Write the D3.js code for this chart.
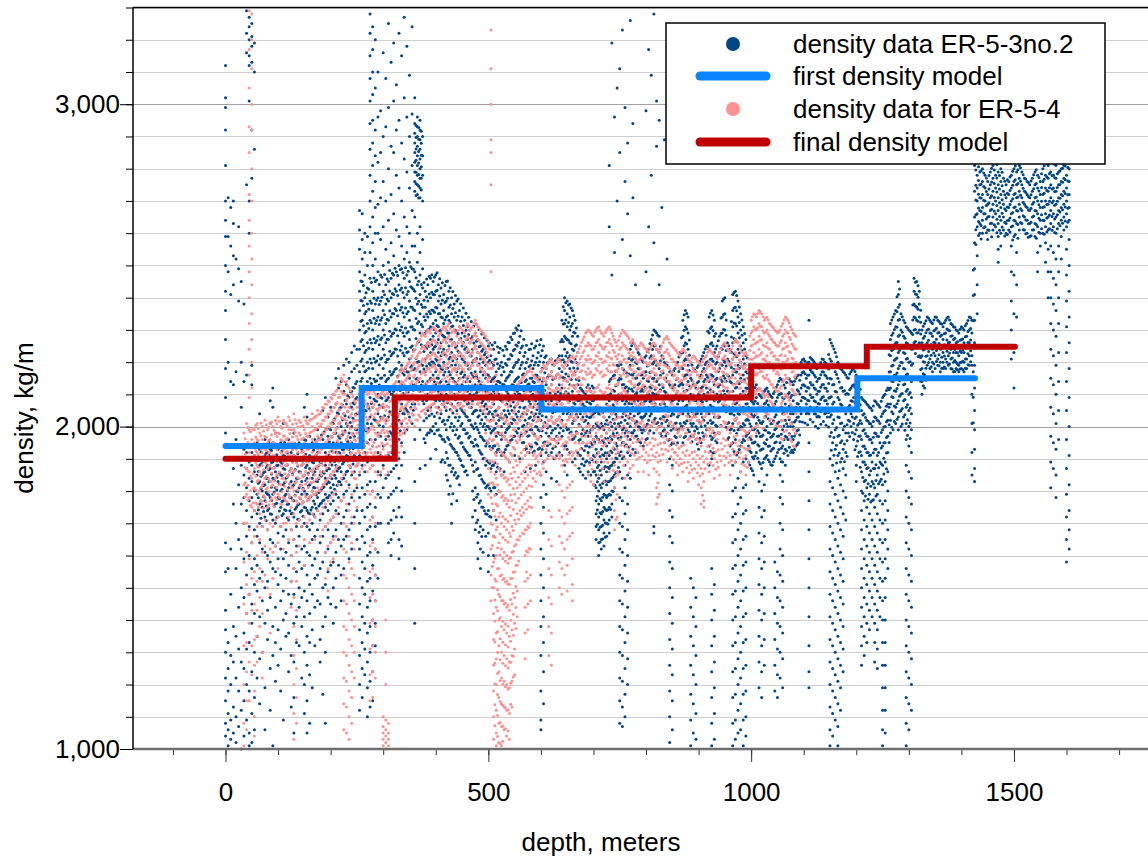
<!DOCTYPE html>
<html>
<head>
<meta charset="utf-8">
<script src="https://cdn.jsdelivr.net/npm/d3@7"></script>
<style>
  body { margin: 0; background: #fff; }
  text { font-family: "Liberation Sans", Arial, sans-serif; fill: #000; }
</style>
</head>
<body>
<div id="chart"></div>
<script>
// ER-5-3no.2 density samples: [depth, density, density, ...]
var er53Rows = [
  [0,3120,3020,2990,2920,2810,2700,2640,2590,2500,2420,2360,2270,2180,2090,1980,1640,1550,1430,1370,1300,1220,1150,1080,1040],
  [5,2710,2590,2480,2200,1560,1330,1250,1180,1110,1060,1010],
  [10,2680,2560,2410,2140,1900,1620,1480,1290,1200,1090,1030],
  [15,2700,2630,2530,2440,2130,1870,1760,1380,1270,1130,1050],
  [20,2520,2170,1960,1700,1560,1350,1220,1100,1020],
  [25,2620,2490,2390,1940,1820,1650,1440,1310,1180,1070],
  [30,2450,2200,2060,1880,1760,1620,1500,1270,1120,1000],
  [35,2380,2140,1930,1850,1780,1700,1590,1470,1360,1250,1150,1040],
  [40,3290,3220,3160,2750,2160,1920,1870,1810,1740,1660,1540,1420,1310,1200,1090],
  [45,3270,3240,3200,3150,3120,3010,2700,2600,1940,1890,1840,1770,1690,1600,1480,1330,1180,1050,1010],
  [50,3250,3210,3180,3130,2920,2770,2190,2130,1920,1880,1830,1780,1720,1640,1560,1450,1390,1240,1110,1020],
  [55,3190,3100,2860,1910,1860,1800,1740,1680,1590,1510,1420,1300,1160,1060],
  [60,1950,1900,1850,1790,1730,1660,1570,1490,1350,1220],
  [65,2040,1930,1880,1830,1760,1700,1640,1530,1410,1280,1140],
  [70,1940,1890,1850,1800,1750,1690,1620,1550,1460,1300],
  [75,1960,1910,1860,1820,1770,1720,1610,1500,1390,1190,1060],
  [80,1920,1880,1840,1790,1740,1680,1600,1520,1430,1340],
  [85,2080,2010,1930,1870,1830,1780,1730,1650,1580,1470,1250,1120],
  [90,2120,2060,1950,1890,1840,1790,1710,1640,1560,1380,1290,1010],
  [95,1980,1900,1860,1810,1760,1700,1630,1550,1440,1330,1210],
  [100,1930,1880,1830,1780,1720,1670,1590,1510,1370,1260],
  [105,1950,1890,1850,1800,1750,1690,1620,1540,1460,1310,1180],
  [110,2010,1910,1870,1820,1770,1730,1660,1590,1490,1400,1090],
  [115,1940,1880,1840,1790,1740,1680,1610,1530,1420,1350],
  [120,1960,1900,1850,1810,1760,1710,1640,1570,1480,1360,1240],
  [125,1920,1870,1830,1780,1730,1680,1600,1520,1450,1290,1130],
  [130,1980,1910,1860,1820,1770,1720,1650,1560,1480,1390,1270,1160,1050],
  [135,1940,1890,1840,1800,1750,1690,1630,1550,1410,1330],
  [140,1950,1900,1860,1810,1760,1710,1660,1580,1500,1440,1320],
  [145,1930,1880,1830,1790,1740,1690,1620,1560,1470,1380,1220],
  [150,2060,1960,1900,1850,1800,1750,1700,1630,1570,1490,1410,1300,1200,1110],
  [155,2100,2030,1940,1880,1840,1790,1740,1690,1610,1540,1460,1350,1260,1150,1050],
  [160,1970,1910,1870,1820,1780,1730,1680,1600,1510,1420,1330,1230,1080],
  [165,1950,1890,1840,1800,1750,1700,1650,1570,1480,1370,1190],
  [170,1960,1900,1860,1810,1760,1720,1660,1590,1530,1440,1320],
  [175,1990,1920,1870,1830,1780,1740,1680,1610,1540,1460],
  [180,2000,1940,1890,1850,1800,1760,1710,1640,1560,1450,1340,1270],
  [185,2050,1960,1900,1860,1810,1770,1730,1660,1580,1500,1380,1170],
  [190,2090,1990,1920,1880,1840,1790,1750,1690,1610,1510,1410,1300,1080],
  [195,2030,1970,1910,1870,1830,1780,1740,1680,1620,1550,1470],
  [200,2060,1990,1940,1890,1850,1810,1760,1710,1640,1570,1450],
  [205,2100,2010,1950,1900,1860,1820,1770,1720,1660,1580,1500,1390],
  [210,2150,2070,1980,1920,1880,1840,1790,1740,1680,1610,1530,1440],
  [215,2180,2120,2040,1970,1920,1870,1830,1780,1730,1650,1570],
  [220,2140,2060,2000,1950,1900,1860,1820,1770,1700,1630,1540,1460],
  [225,2190,2110,2040,1980,1930,1890,1840,1790,1720,1650,1560],
  [230,2210,2130,2070,2010,1960,1910,1860,1800,1740,1660],
  [235,2200,2150,2090,2030,1980,1930,1880,1820,1760,1680,1590],
  [240,2230,2170,2110,2060,2000,1950,1900,1850,1780,1700,1620],
  [245,2250,2180,2120,2070,2020,1970,1910,1860,1800,1720],
  [250,2240,2190,2140,2090,2040,1990,1940,1880,1810,1740,1650],
  [255,2670,2610,2550,2480,2420,2360,2300,2240,2170,2100,2040,1980,1910,1850,1780,1700,1620,1530,1450,1370,1290,1200,1120],
  [260,2660,2580,2520,2450,2390,2330,2270,2210,2150,2080,2010,1950,1880,1810,1740,1660,1580,1500,1410,1330,1250,1160],
  [265,2600,2540,2470,2400,2350,2290,2230,2170,2110,2050,1990,1920,1860,1790,1720,1640,1560,1480,1390,1310,1230],
  [270,2590,2500,2430,2380,2320,2260,2200,2140,2070,2010,1950,1890,1820,1750,1680,1600,1520,1440,1360,1270,1190,1100],
  [275,3280,3220,3150,3080,3010,2940,2860,2780,2700,2620,2540,2460,2390,2330,2270,2210,2150,2090,2030,1960,1900,1830,1760,1690,1610,1530,1460,1380,1300,1210,1130],
  [280,3240,3170,3100,3030,2950,2880,2810,2730,2650,2570,2500,2420,2360,2300,2240,2180,2120,2060,2000,1940,1880,1800,1720,1650,1570,1490,1400,1320,1240,1150],
  [285,3200,3050,2920,2840,2760,2680,2600,2520,2450,2380,2320,2260,2200,2140,2080,2020,1960,1900,1830,1750,1690,1620,1540,1460,1390,1320],
  [290,3100,2960,2820,2690,2600,2480,2400,2340,2280,2220,2160,2100,2040,1980,1920,1860,1790,1700,1610,1530],
  [295,2980,2850,2710,2580,2470,2390,2330,2270,2210,2150,2090,2030,1970,1910,1850,1780,1700],
  [300,3160,2900,2760,2620,2500,2420,2360,2300,2240,2180,2120,2060,2000,1940,1880,1810],
  [305,3080,2930,2700,2550,2440,2380,2320,2260,2200,2140,2080,2020,1960,1900,1840],
  [310,3250,2990,2800,2640,2510,2450,2390,2330,2270,2210,2150,2090,2030,1970,1910,1850,1780,1700,1640],
  [315,3130,2870,2720,2570,2460,2400,2340,2280,2220,2160,2100,2040,1980,1920,1860,1790,1710,1650,1600],
  [320,3190,3010,2850,2660,2530,2470,2410,2350,2290,2230,2170,2110,2050,1990,1930,1870,1800,1740,1670],
  [325,3060,2920,2780,2610,2480,2420,2360,2300,2240,2180,2120,2060,2000,1940,1880,1810,1720],
  [330,3220,2950,2740,2590,2500,2440,2380,2320,2260,2200,2140,2080,2020,1960,1900,1840,1750,1650,1590],
  [335,3150,2880,2700,2560,2490,2430,2370,2310,2250,2190,2130,2070,2010,1950,1880,1800,1720,1630],
  [340,3270,3020,2830,2650,2520,2460,2400,2340,2280,2220,2160,2100,2040,1980,1920],
  [345,3180,2960,2790,2620,2540,2470,2410,2350,2290,2230,2170,2110,2050,1990],
  [350,3090,2900,2740,2600,2510,2450,2390,2330,2270,2210,2150,2090,2030],
  [355,3240,2970,2810,2670,2560,2490,2430,2370,2310,2250,2190,2130,2070,2010],
  [360,3020,2940,2910,2880,2850,2820,2790,2760,2730,2650,2560,2480,2420,2360,2300,2240,2180,2130,2070,1960,1830,1700,1560,1390],
  [365,2960,2930,2900,2870,2840,2810,2780,2750,2720,2600,2510,2440,2380,2320,2260,2200,2150,2090],
  [370,2950,2920,2890,2860,2830,2800,2770,2740,2710,2620,2540,2470,2410,2350,2290,2230,2170,2110,1990,1870],
  [375,2900,2840,2780,2700,2580,2490,2430,2370,2310,2250,2190,2140,2080],
  [380,2420,2370,2330,2290,2250,2210,2170,2130,2090,2040,1950,1880],
  [385,2440,2390,2340,2300,2260,2220,2180,2140,2100,2050,1980],
  [390,2460,2400,2350,2310,2270,2230,2190,2150,2110,2060,1990,1900],
  [395,2450,2410,2360,2320,2280,2240,2200,2160,2120,2070,2000],
  [400,2470,2420,2370,2330,2290,2250,2210,2170,2130,2080,2010,1930],
  [405,2440,2390,2350,2310,2270,2230,2190,2150,2110,2060,1990],
  [410,2430,2380,2340,2300,2260,2220,2180,2140,2100,2040,1970,1890],
  [415,2410,2360,2320,2280,2240,2200,2160,2120,2080,2020,1960],
  [420,2450,2390,2340,2300,2260,2220,2180,2140,2100,2050,1990,1920,1850],
  [425,2420,2370,2330,2290,2250,2210,2170,2130,2090,2030,1960,1880,1790],
  [430,2400,2350,2310,2270,2230,2190,2150,2110,2070,2010,1940,1860,1760,1700],
  [435,2380,2340,2300,2260,2220,2180,2140,2100,2060,2000,1930,1850],
  [440,2390,2330,2290,2250,2210,2170,2130,2090,2050,1990,1920,1840,1770],
  [445,2360,2310,2270,2230,2190,2150,2110,2070,2030,1970,1900,1820],
  [450,2340,2290,2250,2210,2170,2130,2090,2050,2010,1950,1880],
  [455,2330,2280,2240,2200,2160,2120,2080,2040,1990,1930,1860],
  [460,2310,2270,2230,2190,2150,2110,2070,2030,1980,1920,1850],
  [465,2300,2260,2220,2180,2140,2100,2060,2020,1970,1910],
  [470,2280,2240,2200,2160,2120,2080,2040,2000,1950,1880,1800,1720],
  [475,2290,2250,2210,2170,2130,2090,2050,2010,1960,1890,1810,1740,1680],
  [480,2270,2230,2190,2150,2110,2070,2030,1990,1940,1870,1790,1710,1640,1590],
  [485,2250,2210,2170,2130,2090,2050,2010,1970,1920,1850,1770,1690,1620,1560],
  [490,2240,2200,2160,2120,2080,2040,2000,1960,1900,1830,1750,1680,1610],
  [495,2230,2190,2150,2110,2070,2030,1990,1940,1880,1810,1730,1660],
  [500,2250,2200,2160,2120,2080,2040,2000,1950,1890,1820,1740,1670,1600,1550],
  [505,2220,2180,2140,2100,2060,2020,1980,1930,1870,1800,1720],
  [510,2240,2190,2150,2110,2070,2030,1990,1940,1880,1810,1740,1660,1600],
  [515,2210,2170,2130,2090,2050,2010,1970,1920,1860,1790,1710],
  [520,2230,2180,2140,2100,2060,2020,1980,1930,1870,1800],
  [525,2200,2160,2120,2080,2040,2000,1960,1910,1850],
  [530,2220,2170,2130,2090,2050,2010,1970,1920,1860],
  [535,2240,2190,2150,2110,2070,2030,1990,1940],
  [540,2260,2210,2160,2120,2080,2040,2000,1950,1890],
  [545,2270,2220,2170,2130,2090,2050,2010,1960],
  [550,2290,2240,2190,2140,2100,2060,2020,1970,1910],
  [555,2300,2250,2200,2150,2110,2070,2030,1980],
  [560,2280,2230,2180,2140,2100,2060,2020,1970,1900],
  [565,2250,2200,2160,2120,2080,2040,2000,1950],
  [570,2230,2180,2140,2100,2060,2020,1980,1930,1860],
  [575,2210,2170,2130,2090,2050,2010,1970,1920],
  [580,2240,2190,2150,2110,2070,2030,1990,1940,1870],
  [585,2220,2180,2140,2100,2060,2020,1980,1920],
  [590,2250,2200,2160,2120,2080,2040,2000,1950,1880],
  [595,2230,2190,2150,2110,2070,2030,1990,1930],
  [600,2270,2220,2170,2120,2070,2020,1970,1910,1850,1780,1700,1620,1540,1460,1380,1290,1180,1090,1060],
  [605,2250,2200,2150,2100,2050,2000,1950,1890,1820,1750,1670,1590,1500,1410,1330,1240,1140],
  [610,2220,2180,2130,2080,2030,1980,1920,1860,1790],
  [615,2200,2160,2120,2070,2020,1970,1910],
  [620,2210,2170,2130,2080,2030,1980,1920,1840],
  [625,2190,2150,2110,2060,2010,1960,1900],
  [630,2200,2160,2120,2070,2020,1970,1910,1830],
  [635,2220,2180,2130,2080,2030,1980,1920],
  [640,2330,2270,2220,2170,2120,2070,2020,1970,1910],
  [645,2400,2360,2320,2280,2240,2200,2150,2100,2050,2000,1940,1880],
  [650,2390,2350,2310,2270,2230,2190,2140,2090,2040,1990,1930,1850],
  [655,2380,2340,2300,2260,2220,2180,2130,2080,2030,1980,1920],
  [660,2360,2320,2280,2240,2200,2160,2110,2060,2010,1960,1890],
  [665,2330,2290,2250,2210,2170,2120,2070,2020,1970,1900],
  [670,2280,2230,2180,2130,2080,2030,1980,1920],
  [675,2120,2080,2040,2000,1960,1910,1860],
  [680,2110,2070,2030,1990,1950,1900,1850],
  [685,2100,2060,2020,1980,1940,1890,1840],
  [690,2130,2090,2050,2010,1970,1920,1860],
  [695,2110,2070,2030,1990,1950,1900,1850],
  [700,2120,2080,2040,2000,1960,1910,1860,1820],
  [705,2060,2010,1970,1930,1890,1850,1810,1770,1730,1690,1650],
  [710,2040,2000,1960,1920,1880,1840,1800,1760,1720,1680,1640,1600],
  [715,2050,2010,1970,1930,1890,1850,1810,1770,1730,1690,1650,1620],
  [720,2030,1990,1950,1910,1870,1830,1790,1750,1710,1670,1630],
  [725,2070,2020,1980,1940,1900,1860,1820,1780,1740,1700,1660],
  [730,2140,2080,2030,1990,1950,1910,1870,1830,1790,1750,1710,1670,2620,2810],
  [735,2150,2090,2040,2000,1960,1920,1880,1840,1800,1760,1720,2470,3190],
  [740,2160,2110,2060,2010,1970,1930,1890,1850,1810,2540,2960],
  [745,2190,2130,2080,2030,1980,1940,1900,1860,2700,3050],
  [750,2200,2150,2100,2050,2000,1960,1910,1860,1780,1700,1620,1540,1460,1380,1300,1220,1150,1080,2850,3110],
  [755,2180,2130,2080,2030,1990,1950,1900,1840,1770,1690,1610,1530,1450,1370,1290,1210,1130,1070,2580,3230],
  [760,2170,2120,2070,2020,1980,1940,1880,1810,1730,1650,1570,1490,1410,1330,1250,1170,1100,2760,2990],
  [765,2160,2110,2060,2010,1970,1920,1850,1760,1680,1600,1520,1440,1360,1280,1200,2660,2880],
  [770,2240,2190,2140,2090,2040,2000,1960,1910,1840,2530,3260],
  [775,2260,2210,2160,2110,2060,2020,1980,1930,2710,2940],
  [780,2250,2200,2150,2100,2050,2010,1970,1920,2440],
  [785,2230,2180,2130,2080,2040,2000,1960],
  [790,2210,2160,2110,2070,2030,1990,1950],
  [795,2200,2150,2110,2070,2030,1990,1940],
  [800,2220,2170,2120,2080,2040,2000,1960,2480,2980],
  [805,2240,2190,2140,2100,2060,2020,1980,2620,3170],
  [810,2270,2220,2170,2120,2080,2040,2000,2780,3090],
  [815,2300,2250,2200,2150,2100,2060,2020,1980,1690,1670,2570,3280],
  [820,2290,2240,2190,2140,2100,2060,2010,2870,3010],
  [825,2280,2230,2180,2130,2090,2050,2000,2440,2950],
  [830,2220,2170,2130,2090,2050,2010,1970,2680],
  [835,2200,2150,2110,2070,2030,1990,1950,2890],
  [840,2190,2140,2100,2060,2020,1980,2520],
  [845,2170,2130,2090,2050,2010,1960,1900,1820,1740,1660,1580,1500,1420,1340,1260,1180,1100,1020],
  [850,2160,2120,2080,2040,2000,1950,1880,1800,1720,1640,1560,1470,1390,1310,1230,1150,1060],
  [855,2180,2130,2090,2050,2010,1970,1920],
  [860,2200,2150,2110,2070,2030,1990,1950],
  [865,2230,2180,2130,2090,2050,2010,1970],
  [870,2330,2280,2230,2180,2130,2080,2040,2000,1950],
  [875,2360,2310,2260,2210,2160,2110,2060,2010,1970],
  [880,2340,2290,2240,2190,2140,2090,2040,1990],
  [885,2200,2150,2100,2050,2010,1970,1530,1440,1350,1260,1170,1090,1010],
  [890,2180,2130,2090,2050,2010,1970,1500,1410,1320,1230,1140,1050],
  [895,2170,2120,2080,2040,2000,1960,1470,1380,1290,1200,1110,1030],
  [900,2190,2140,2100,2060,2020,1980,1930],
  [905,2210,2160,2120,2080,2040,2000,1950],
  [910,2230,2180,2140,2100,2060,2020,1970],
  [915,2250,2200,2160,2120,2080,2040,1990],
  [920,2340,2290,2240,2190,2140,2090,2040,1990,1940,1880],
  [925,2360,2310,2260,2210,2160,2110,2060,2010,1960,1900,1560,1480,1400,1320,1240,1160,1080,1010],
  [930,2330,2280,2230,2180,2130,2080,2030,1980,1920,1510,1430,1350,1270,1190,1110,1030],
  [935,2250,2200,2150,2100,2050,2000,1950],
  [940,2280,2230,2180,2130,2080,2030,1980],
  [945,2390,2340,2290,2240,2190,2140,2090,2050],
  [950,2400,2350,2300,2250,2200,2150,2100,2060],
  [955,2260,2210,2160,2110,2060,2010,1960],
  [960,2240,2190,2140,2090,2040,1990,1940],
  [965,2410,2360,2310,2260,2210,2160,2110,2060,2010,1950,1880,1800,1720,1640,1560,1480,1400,1320,1240,1160,1080,1010],
  [970,2420,2370,2320,2270,2220,2170,2120,2070,2020,1960,1890,1810,1730,1650,1570,1490,1410,1330,1250,1170,1090,1030],
  [975,2390,2340,2290,2240,2190,2140,2090,2040,1990,1920,1840,1760,1680,1600,1520,1440,1360,1280,1200,1120,1050],
  [980,2350,2300,2250,2200,2150,2100,2050,2000,1940,1860,1780,1700,1620,1540,1460,1380,1300,1220,1140,1060],
  [985,2310,2260,2210,2160,2110,2060,2010,1960,1890,1810,1730,1650,1570,1490,1410,1330,1250,1170,1090,1010],
  [990,2270,2220,2170,2120,2070,2020,1970,1900,1820,1740,1660,1580,1500,1420,1340,1260,1180,1100,1040],
  [995,2150,2100,2060,2020,1980,1940,1890],
  [1000,2120,2080,2040,2000,1960,1920,1870],
  [1005,2110,2070,2030,1990,1950,1900,1850],
  [1010,2130,2090,2050,2010,1970,1920],
  [1015,2100,2060,2020,1980,1940,1890,1830,1750,1670,1590,1510,1430,1350,1270,1190],
  [1020,2090,2050,2010,1970,1930,1870,1800,1720,1640,1560,1480,1400,1320,1240,1160],
  [1025,2110,2070,2030,1990,1950,1900,1820,1740,1660,1580,1500,1420,1340,1260],
  [1030,2120,2080,2040,2000,1960,1910,1850],
  [1035,2100,2060,2020,1980,1940,1890],
  [1040,2090,2050,2010,1970,1930,1880],
  [1045,2110,2070,2030,1990,1950,1900,1580,1500,1420,1340,1260,1180],
  [1050,2130,2090,2050,2010,1970,1920,1550,1470,1390,1310,1230,1160],
  [1055,2150,2100,2050,2000,1950,1900,1850,1780,1700,1620,1540,1460,1380,1300,1220],
  [1060,2140,2090,2040,1990,1940,1890,1830,1760,1680,1600,1520,1440,1360,1280,1190],
  [1065,2120,2070,2020,1970,1930,1880],
  [1070,2150,2100,2050,2000,1960,1910],
  [1075,2140,2090,2040,2000,1960,1920],
  [1080,2130,2080,2040,2000,1960,1920],
  [1085,2150,2100,2060,2020,1980,1940],
  [1090,2160,2110,2070,2030,1990,1950],
  [1095,2200,2160,2120,2080,2040],
  [1100,2210,2170,2130,2090,2050],
  [1105,2190,2150,2110,2070,2040],
  [1110,2330,2200,2160,2120,2080,2040,1950,1860,1770,1680,1590,1500,1410,1320,1240,1190],
  [1115,2210,2170,2130,2090,2050],
  [1120,2200,2160,2120,2080,2040],
  [1125,2180,2140,2100,2060,2030],
  [1130,2190,2150,2110,2070,2030],
  [1135,2210,2170,2130,2090,2050],
  [1140,2200,2160,2120,2080,2040],
  [1145,2190,2150,2110,2070,2030],
  [1150,2270,2210,2150,2090,2030,1970,1900,1830,1760,1690,1620,1550,1480,1410,1340,1270,1200,1130,1060,1010],
  [1155,2250,2190,2130,2070,2010,1950,1880,1810,1740,1670,1600,1530,1460,1390,1320,1250,1180,1110,1040],
  [1160,2230,2170,2110,2050,1990,1930,1860,1790,1720,1650,1580,1510,1440,1370,1300,1230,1160,1090],
  [1165,2200,2150,2090,2030,1970,1910,1840,1770,1700,1630,1560,1490,1420,1350,1280,1210,1140,1070,1010],
  [1170,2180,2120,2070,2010,1950,1890,1820,1750,1680,1610,1540,1470,1400,1330,1260,1190,1120],
  [1175,2170,2110,2050,1990,1930,1870,1800,1730,1660,1590,1520,1450,1380,1310,1240],
  [1180,2160,2100,2040,1980,1920,1850,1780,1710],
  [1185,2150,2100,2060,2020,1980],
  [1190,2170,2120,2080,2040,2000],
  [1195,2180,2130,2090,2050,2010,1960],
  [1200,2160,2110,2070,2030,1990,1940,1880,1830],
  [1205,2140,2090,2050,2010,1970,1920],
  [1210,2090,2050,2010,1960,1910,1860,1800,1740,1680,1620,1560,1500,1440,1380,1320,1260],
  [1215,2080,2040,1990,1940,1890,1830,1770,1710,1650,1590,1530,1470,1410,1350,1290],
  [1220,2070,2020,1970,1920,1870,1810,1750,1690,1630,1570,1510,1450,1390,1330],
  [1225,2060,2010,1960,1910,1850,1790,1730,1670,1610,1550,1490,1430,1370],
  [1230,2050,2000,1950,1890,1830,1770,1710,1650,1590,1530,1470,1410],
  [1235,2080,2030,1980,1930,1870,1810,1750,1690,1630,1570,1510,1450,1390,1330,1270],
  [1240,2070,2020,1970,1910,1850,1790,1730,1670,1610,1550,1490,1430,1370,1310,1250],
  [1245,2060,2010,1950,1890,1830,1770,1710,1650,1590,1530,1470,1410],
  [1250,2090,2040,1990,1940,1880,1820,1760,1700,1640,1580,1520,1460,1400,1330,1260,1190,1120,1060,1010],
  [1255,2100,2050,2000,1950,1890,1830,1770,1710,1650,1590,1530,1470,1400,1330,1260,1190,1120,1050],
  [1260,2120,2070,2020,1970,1920,1860,1800,1740,1680,1620,1560],
  [1265,2320,2270,2220,2170,2120,2070,2020,1980],
  [1270,2340,2290,2240,2190,2140,2090,2040,1990],
  [1275,2360,2310,2260,2210,2160,2110,2060,2010],
  [1280,2450,2410,2370,2330,2280,2230,2180,2130,2080,2030,1990],
  [1285,2350,2300,2250,2200,2150,2100,2050,2000],
  [1290,2330,2280,2230,2180,2130,2080,2030],
  [1295,2310,2260,2210,2160,2110,2060,2010,1960,1880,1800,1720,1640,1560,1480,1400,1320,1240,1160,1080,1010],
  [1300,2300,2250,2200,2150,2100,2050,2000,1940,1860,1780,1700,1620,1540,1460,1380,1300,1220,1140,1060],
  [1305,2290,2240,2190,2140,2090,2040,1990,1920,1840,1760,1680,1600,1520,1440,1360,1280,1200,1120],
  [1310,2460,2420,2380,2340,2300,2260],
  [1315,2450,2410,2370,2330,2290,2250],
  [1320,2420,2380,2340,2300,2260,2220],
  [1325,2300,2260,2220,2180,2140,2100],
  [1330,2320,2280,2240,2200,2160,2120],
  [1335,2340,2300,2260,2220,2190],
  [1340,2330,2290,2250,2210,2180],
  [1345,2320,2280,2240,2200,2170],
  [1350,2340,2300,2260,2220,2180],
  [1355,2330,2290,2250,2210,2190],
  [1360,2320,2280,2240,2200,2170],
  [1365,2310,2270,2230,2200,2180],
  [1370,2330,2290,2250,2210,2180],
  [1375,2340,2300,2260,2220,2190],
  [1380,2320,2280,2240,2210,2180],
  [1385,2310,2270,2230,2200,2170],
  [1390,2300,2260,2230,2200,2180],
  [1395,2290,2250,2220,2190,2170],
  [1400,2310,2270,2230,2200,2180],
  [1405,2300,2260,2230,2200,2170],
  [1410,2320,2280,2250,2210,2180],
  [1415,2340,2300,2260,2220,2190],
  [1420,2330,2290,2250,2220,2190,2100,2010,1920,1850],
  [1425,2810,2730,2650,2570,2490,2410,2330,2260,2190,2120,2050,1990,1930,1870,1830],
  [1430,2820,2780,2740,2700,2660,2620,2530,2440,2350],
  [1435,2790,2750,2710,2670,2630,2600],
  [1440,2800,2760,2720,2680,2640,2600],
  [1445,2780,2740,2700,2660,2620],
  [1450,2760,2720,2690,2650,2610,2580],
  [1455,2790,2750,2710,2670,2630],
  [1460,2810,2770,2730,2690,2650,2610],
  [1465,2780,2740,2700,2660,2620],
  [1470,2830,2790,2750,2710,2670,2630,2590,2550,2510],
  [1475,2800,2760,2720,2680,2640,2600,2560],
  [1480,2770,2730,2690,2650,2610],
  [1485,2750,2710,2670,2630,2600],
  [1490,2760,2720,2680,2640,2610],
  [1495,2780,2740,2700,2660,2620,2560,2480,2390,2300,2210],
  [1500,2800,2760,2720,2680,2640,2590,2470,2350,2230,2120],
  [1505,2790,2750,2710,2670,2630,2540,2440,2340],
  [1510,2810,2770,2730,2690,2650,2610],
  [1515,2790,2750,2710,2670,2630],
  [1520,2770,2730,2690,2650,2610],
  [1525,2760,2720,2680,2640,2600],
  [1530,2750,2710,2670,2630,2590],
  [1535,2770,2730,2690,2650,2610],
  [1540,2790,2750,2710,2670,2630,2590],
  [1545,2780,2740,2700,2660,2620,2540,2480],
  [1550,2760,2720,2680,2640,2600,2560],
  [1555,2800,2760,2720,2680,2640,2600],
  [1560,2820,2780,2740,2700,2660,2620,2570,2510],
  [1565,2810,2770,2730,2690,2650,2610,2550,2480,2400],
  [1570,2830,2790,2750,2710,2670,2630,2560,2480,2400,2320,2240,2150,2060,1970,1890,1810],
  [1575,2820,2780,2740,2700,2660,2620,2540,2460,2380,2300,2220,2130,2040,1950,1870],
  [1580,2810,2770,2730,2690,2650,2600,2520,2440,2360,2280,2190,2100,2010,1930,1850,1780],
  [1585,2830,2790,2750,2710,2670,2630,2560,2480,2400,2320,2230,2140,2050,1960],
  [1590,2840,2800,2760,2720,2680,2640,2590,2520],
  [1595,2850,2810,2770,2730,2690,2650,2610],
  [1600,2860,2820,2780,2740,2700,2660,2620,2550,2470,2390,2310,2230,2140,2050,1960,1870,1790,1720,1650,1580],
  [1605,2840,2800,2760,2720,2680,2640,2580,2500,2420,2340,2260,2180,2090,2000,1910,1820,1740,1680,1620]
];

// ER-5-3no.2 samples in between, where the log is densest
var er53BandRows = [
  [62.5,1938,1896,1861,1824,1779,1742],[67.5,1921,1884,1846,1808,1769,1716],[72.5,1944,1903,1858,1817,1783,1737],
  [77.5,1917,1872,1839,1796,1754,1709],[82.5,1952,1911,1866,1829,1788,1746],[87.5,1926,1889,1853,1812,1771,1728],
  [92.5,1948,1907,1872,1834,1797,1752],[97.5,1913,1879,1842,1803,1762,1719],[102.5,1939,1898,1857,1821,1776,1738],
  [107.5,1924,1886,1849,1806,1768,1724],[112.5,1951,1909,1868,1827,1785,1742],[117.5,1918,1881,1844,1801,1759,1717],
  [122.5,1942,1903,1862,1823,1781,1739],[127.5,1929,1891,1853,1814,1772,1731],[132.5,1947,1906,1867,1828,1787,1744],
  [137.5,1916,1878,1839,1798,1757,1713],[142.5,1936,1897,1859,1818,1776,1735],[147.5,1923,1885,1847,1809,1766,1722],
  [152.5,1958,1914,1873,1832,1791,1748],[157.5,1931,1892,1855,1816,1774,1733],[162.5,1944,1905,1864,1825,1783,1741],
  [167.5,1927,1888,1851,1811,1769,1728],[172.5,1953,1912,1870,1831,1789,1747],[177.5,1962,1921,1879,1838,1796,1754],
  [182.5,1974,1932,1889,1847,1806,1763],[187.5,1983,1941,1898,1855,1813,1772],[192.5,1991,1948,1906,1864,1822,1779],
  [197.5,1996,1953,1911,1869,1827,1786],[202.5,2012,1968,1924,1881,1838,1795],[207.5,2024,1979,1935,1892,1849,1806],
  [212.5,2043,1997,1951,1906,1862,1818],[217.5,2058,2011,1964,1918,1873,1829],[222.5,2067,2021,1975,1929,1884,1838],
  [227.5,2081,2034,1987,1941,1896,1851],[232.5,2096,2048,2001,1954,1908,1862],[237.5,2108,2061,2013,1966,1919,1873],
  [242.5,2121,2073,2026,1978,1931,1884],[247.5,2133,2086,2038,1991,1943,1896],
  [257.5,2452,2391,2327,2264,2203,2141,2078,2016,1953],[262.5,2438,2376,2313,2251,2188,2126,2063,2001,1938],
  [267.5,2415,2357,2296,2237,2174,2112,2049,1987],[272.5,2426,2364,2304,2243,2181,2119,2057,1994],
  [277.5,2447,2383,2322,2259,2197,2134,2072,2009],[282.5,2461,2398,2336,2273,2211,2148,2086,2023],
  [287.5,2455,2392,2329,2267,2204,2142,2079,2017],[292.5,2441,2379,2317,2254,2192,2129,2067,2004],
  [297.5,2463,2401,2338,2276,2213,2151,2088,2026],[302.5,2472,2409,2347,2284,2222,2159,2097,2034],
  [307.5,2458,2396,2333,2271,2208,2146,2083,2021],[312.5,2484,2421,2359,2296,2234,2171,2109,2046,1984],
  [317.5,2476,2413,2351,2288,2226,2163,2101,2038,1976],[322.5,2491,2428,2366,2303,2241,2178,2116,2053,1991],
  [327.5,2469,2407,2344,2282,2219,2157,2094,2032],[332.5,2487,2424,2362,2299,2237,2174,2112,2049,1987],
  [337.5,2478,2416,2353,2291,2228,2166,2103,2041],[342.5,2493,2431,2368,2306,2243,2181,2118,2056],
  [347.5,2482,2419,2357,2294,2232,2169,2107,2044],[352.5,2496,2434,2371,2309,2246,2184,2121,2059],
  [357.5,2488,2426,2363,2301,2238,2176,2113,2051],
  [362.5,2934,2897,2861,2826,2789,2753,2717,2462,2398,2335,2273,2211,2148,2086],
  [367.5,2928,2891,2853,2818,2782,2746,2709,2451,2389,2326,2264,2202,2139],
  [372.5,2916,2879,2842,2806,2770,2734,2441,2379,2317,2254,2192,2129],
  [377.5,2447,2392,2341,2286,2233,2179,2126,2071,2018,1962],[382.5,2458,2403,2349,2296,2242,2188,2135,2081,2027,1974],
  [387.5,2466,2411,2357,2303,2249,2196,2142,2088,2034,1981],[392.5,2471,2417,2362,2308,2254,2201,2147,2093,2039,1986],
  [397.5,2463,2409,2355,2301,2247,2193,2139,2085,2031,1978],[402.5,2477,2423,2368,2314,2259,2205,2151,2097,2043,1989],
  [407.5,2459,2405,2351,2297,2243,2189,2135,2081,2027,1973],[412.5,2446,2392,2338,2284,2231,2177,2123,2069,2015,1961,1897],
  [417.5,2438,2385,2331,2277,2223,2169,2115,2061,2007,1953,1889],[422.5,2452,2398,2344,2290,2236,2182,2128,2074,2020,1966,1902,1834],
  [427.5,2431,2377,2323,2269,2215,2161,2107,2053,1999,1945,1881,1816],[432.5,2419,2366,2312,2258,2204,2150,2096,2042,1988,1934,1871,1792],
  [437.5,2407,2353,2299,2245,2191,2137,2083,2029,1975,1921,1858],[442.5,2396,2342,2288,2234,2180,2126,2072,2018,1964,1910,1846],
  [447.5,2381,2327,2273,2219,2165,2111,2057,2003,1949,1895],[452.5,2368,2314,2261,2207,2153,2099,2045,1991,1937,1876],
  [457.5,2352,2299,2246,2192,2139,2085,2032,1978,1924,1863],[462.5,2339,2286,2233,2179,2126,2072,2019,1965,1911],
  [467.5,2326,2273,2219,2166,2113,2059,2006,1952,1897],[472.5,2312,2259,2206,2153,2099,2046,1993,1939,1861,1774],
  [477.5,2318,2265,2211,2158,2105,2051,1998,1944,1867,1781,1702],[482.5,2301,2248,2194,2141,2088,2034,1981,1927,1848,1763,1672],
  [487.5,2287,2234,2181,2127,2074,2021,1967,1914,1837,1751,1659],[492.5,2276,2223,2169,2116,2063,2009,1956,1902,1824,1739],
  [497.5,2268,2215,2161,2108,2055,2001,1948,1894,1816,1728],[502.5,2259,2206,2153,2099,2046,1993,1939,1886,1809,1721],
  [507.5,2253,2199,2146,2093,2039,1986,1933,1879],[512.5,2261,2208,2155,2101,2048,1995,1941,1888,1811],
  [517.5,2248,2195,2141,2088,2035,1981,1928,1874],[522.5,2243,2189,2136,2083,2029,1976,1923,1869],
  [527.5,2237,2184,2131,2077,2024,1971,1917],[532.5,2249,2196,2142,2089,2036,1982,1929],
  [537.5,2262,2209,2155,2102,2049,1995,1942],[542.5,2278,2224,2171,2118,2064,2011,1958],
  [547.5,2289,2236,2183,2129,2076,2023,1969],[552.5,2306,2253,2199,2146,2093,2039,1986],
  [557.5,2314,2261,2207,2154,2101,2047,1994],[562.5,2297,2244,2191,2137,2084,2031,1977],
  [567.5,2271,2218,2164,2111,2058,2004,1951],[572.5,2252,2199,2145,2092,2039,1985,1932],
  [577.5,2239,2186,2132,2079,2026,1972,1919],[582.5,2257,2204,2150,2097,2044,1990,1937],
  [587.5,2244,2191,2137,2084,2031,1977,1924],[592.5,2266,2213,2159,2106,2053,1999,1946],
  [597.5,2254,2201,2147,2094,2041,1987,1934],[602.5,2236,2181,2139,2088,2034,1987,1929],
  [607.5,2214,2167,2112,2061,2013,1952],[612.5,2198,2153,2097,2049,1996,1941],[617.5,2207,2158,2104,2052,2001,1946],
  [622.5,2193,2146,2092,2043,1989,1932],[627.5,2204,2151,2101,2047,1994,1938],[632.5,2211,2163,2108,2056,2004,1949],
  [637.5,2263,2206,2154,2103,2049,1996],[642.5,2372,2318,2263,2207,2152,2098,2041,1987],
  [647.5,2384,2331,2274,2219,2163,2108,2054,1998,1941],[652.5,2377,2323,2268,2213,2157,2102,2047,1992],
  [657.5,2368,2311,2257,2203,2146,2092,2038,1983],[662.5,2344,2293,2236,2182,2127,2073,2019,1963],
  [667.5,2306,2254,2199,2147,2092,2038,1984],[672.5,2143,2098,2051,2007,1958,1913,1871],
  [677.5,2114,2069,2023,1978,1932,1884],[682.5,2106,2062,2016,1972,1926,1879],[687.5,2121,2077,2031,1986,1941,1893],
  [692.5,2118,2073,2028,1982,1937,1889],[697.5,2126,2081,2036,1990,1944,1897],[702.5,2091,2043,1998,1952,1907,1861,1818],
  [707.5,2047,2003,1962,1918,1873,1829,1784,1741,1697],[712.5,2039,1996,1951,1907,1864,1819,1776,1733,1688,1642],
  [717.5,2044,2001,1957,1913,1869,1824,1781,1737,1694,1651],[722.5,2052,2008,1963,1919,1876,1831,1787,1744,1701,1657],
  [727.5,2098,2054,2007,1963,1919,1874,1829,1786,1742,1698],[732.5,2147,2102,2058,2013,1969,1924,1878,1833,1788,1743],
  [737.5,2157,2113,2068,2023,1979,1934,1889,1844,1799],[742.5,2172,2127,2083,2038,1993,1948,1903,1858],
  [747.5,2189,2144,2099,2054,2009,1964,1919,1873],[752.5,2193,2148,2103,2058,2013,1968,1922],
  [757.5,2176,2131,2086,2041,1996,1951,1907],[762.5,2168,2124,2079,2034,1989,1944],
  [767.5,2211,2163,2118,2072,2027,1982,1937],[772.5,2251,2206,2161,2116,2071,2026,1981],
  [777.5,2257,2213,2168,2123,2078,2033,1988],[782.5,2241,2196,2151,2106,2061,2016,1971],
  [787.5,2224,2179,2134,2089,2044,1999,1954],[792.5,2206,2161,2116,2071,2026,1981],
  [797.5,2214,2169,2124,2079,2034,1989],[802.5,2233,2188,2143,2098,2053,2008,1963],
  [807.5,2258,2213,2168,2123,2078,2033,1988],[812.5,2284,2239,2194,2149,2104,2059,2014],
  [817.5,2296,2251,2206,2161,2116,2071,2026],[822.5,2283,2238,2193,2148,2103,2058,2013],
  [827.5,2249,2204,2159,2114,2069,2024,1979],[832.5,2211,2166,2121,2076,2031,1986],
  [837.5,2196,2151,2106,2061,2016,1971],[842.5,2183,2138,2093,2048,2003,1958],
  [847.5,2169,2124,2079,2034,1989,1944],[852.5,2173,2128,2083,2038,1993,1948],
  [857.5,2191,2146,2101,2056,2011,1966],[862.5,2216,2171,2126,2081,2036,1991],
  [867.5,2276,2228,2182,2136,2091,2046,2001],[872.5,2347,2299,2251,2204,2156,2109,2061,2013,1966],
  [877.5,2351,2303,2256,2208,2161,2113,2066,2018],[882.5,2269,2221,2174,2126,2079,2031,1984],
  [887.5,2191,2143,2096,2048,2001,1953],[892.5,2176,2129,2081,2034,1986],[897.5,2183,2136,2088,2041,1993,1946],
  [902.5,2202,2154,2107,2059,2012,1964],[907.5,2219,2171,2124,2076,2029,1981],[912.5,2241,2193,2146,2098,2051,2003],
  [917.5,2296,2248,2201,2153,2106,2058,2011],[922.5,2352,2304,2256,2209,2161,2114,2066,2019,1971,1923],
  [927.5,2346,2298,2251,2203,2156,2108,2061,2013,1966,1918],[932.5,2289,2241,2194,2146,2099,2051,2004,1956],
  [937.5,2266,2218,2171,2123,2076,2028,1981],[942.5,2337,2289,2242,2194,2147,2099,2052,2004],
  [947.5,2396,2348,2301,2253,2206,2158,2111,2063],[952.5,2331,2283,2236,2188,2141,2093,2046,1998],
  [957.5,2251,2203,2156,2108,2061,2013,1966],[962.5,2326,2278,2231,2183,2136,2088,2041,1993,1946],
  [967.5,2416,2368,2321,2273,2226,2178,2131,2083,2036,1988,1923],[972.5,2407,2359,2312,2264,2217,2169,2122,2074,2027,1979,1912],
  [977.5,2371,2323,2276,2228,2181,2133,2086,2038,1991,1929],[982.5,2331,2283,2236,2188,2141,2093,2046,1998,1951],
  [987.5,2289,2241,2194,2146,2099,2051,2004,1956],[992.5,2213,2166,2118,2071,2023,1976,1928],
  [997.5,2136,2094,2051,2009,1966,1924,1881],[1002.5,2117,2076,2034,1991,1949,1906,1863],
  [1007.5,2121,2079,2037,1994,1952,1909],[1012.5,2114,2072,2029,1987,1944,1902],[1017.5,2096,2054,2012,1969,1927,1884],
  [1022.5,2101,2059,2016,1974,1931,1889],[1027.5,2116,2073,2031,1989,1946,1904],[1032.5,2109,2067,2024,1982,1939,1897],
  [1037.5,2094,2052,2009,1967,1924,1882],[1042.5,2103,2061,2018,1976,1933,1891],[1047.5,2122,2079,2037,1994,1952,1909],
  [1052.5,2141,2099,2056,2014,1971,1929],[1057.5,2146,2103,2061,2018,1976,1933,1891],[1062.5,2129,2087,2044,2002,1959,1917],
  [1067.5,2137,2094,2052,2009,1967,1924],[1072.5,2148,2106,2063,2021,1978,1936],[1077.5,2139,2097,2054,2012,1969,1927],
  [1082.5,2141,2099,2056,2014,1971,1929],[1087.5,2157,2114,2072,2029,1987,1944],[1092.5,2186,2144,2101,2059,2016,1974],
  [1097.5,2207,2168,2129,2091,2052,2014],[1102.5,2203,2164,2126,2087,2049,2011],[1107.5,2198,2159,2121,2082,2044,2006],
  [1112.5,2214,2176,2137,2099,2061,2022],[1117.5,2206,2167,2129,2091,2052,2014],[1122.5,2193,2154,2116,2077,2039,2001],
  [1127.5,2187,2148,2110,2072,2033,1995],[1132.5,2199,2161,2122,2084,2046,2007],[1137.5,2208,2169,2131,2093,2054,2016],
  [1142.5,2196,2157,2119,2081,2042,2004],[1147.5,2224,2179,2134,2089,2044,1999],
  [1152.5,2259,2203,2148,2093,2037,1982,1927],[1157.5,2241,2186,2131,2076,2021,1966,1911],
  [1162.5,2217,2162,2107,2052,1997,1942,1887],[1167.5,2193,2138,2083,2028,1973,1918,1863],
  [1172.5,2176,2121,2066,2011,1956,1901],[1177.5,2166,2111,2056,2001,1946,1891],[1182.5,2152,2103,2054,2006,1957,1908],
  [1187.5,2163,2114,2066,2017,1969],[1192.5,2176,2127,2079,2030,1982],[1197.5,2171,2122,2074,2025,1977,1928],
  [1202.5,2149,2101,2052,2004,1955,1907],[1207.5,2116,2068,2019,1971,1922,1874],
  [1212.5,2084,2036,1987,1939,1890,1842,1793],[1217.5,2076,2028,1979,1931,1882,1834,1785],
  [1222.5,2066,2017,1969,1920,1872,1823,1775],[1227.5,2057,2009,1960,1912,1863,1815,1766],
  [1232.5,2064,2016,1967,1919,1870,1822,1773],[1237.5,2076,2027,1979,1930,1882,1833,1785],
  [1242.5,2066,2017,1969,1920,1872,1823],[1247.5,2079,2031,1982,1934,1885,1837],
  [1252.5,2096,2047,1999,1950,1902,1853],[1257.5,2112,2063,2015,1966,1918,1869],
  [1262.5,2223,2169,2114,2060,2006,1951],[1267.5,2331,2283,2236,2188,2141,2093,2046,1998],
  [1272.5,2349,2301,2254,2206,2159,2111,2064,2016],[1277.5,2403,2356,2308,2261,2213,2166,2118,2071,2023],
  [1282.5,2427,2379,2332,2284,2237,2189,2142,2094,2047],[1287.5,2341,2293,2246,2198,2151,2103,2056,2008],
  [1292.5,2322,2274,2227,2179,2132,2084,2037,1989],[1297.5,2306,2258,2211,2163,2116,2068,2021,1973],
  [1302.5,2296,2248,2201,2153,2106,2058,2011,1963],[1307.5,2377,2331,2286,2241,2196,2151],
  [1312.5,2448,2411,2374,2337,2301,2264,2227],[1317.5,2437,2401,2364,2327,2291,2254,2217],
  [1322.5,2361,2324,2287,2251,2214,2177,2141],[1327.5,2311,2274,2238,2201,2164,2127],
  [1332.5,2328,2291,2254,2218,2181,2144],[1337.5,2336,2302,2268,2233,2199],[1342.5,2324,2289,2255,2221,2186],
  [1347.5,2331,2297,2262,2228,2194],[1352.5,2339,2305,2271,2236,2202],[1357.5,2326,2292,2258,2223,2189],
  [1362.5,2318,2284,2249,2215,2181],[1367.5,2322,2288,2254,2219,2185],[1372.5,2337,2303,2269,2234,2200],
  [1377.5,2331,2297,2262,2228,2194],[1382.5,2316,2282,2248,2213,2179],[1387.5,2308,2274,2239,2205,2171],
  [1392.5,2297,2263,2229,2194,2176],[1397.5,2302,2268,2234,2199,2179],[1402.5,2306,2272,2238,2203,2177],
  [1407.5,2313,2279,2245,2210,2181],[1412.5,2329,2295,2261,2226,2192],[1417.5,2338,2304,2269,2235,2201],
  [1422.5,2486,2407,2328,2249,2170,2091,2012],[1427.5,2796,2749,2703,2657,2611,2565],
  [1432.5,2806,2763,2721,2678,2636,2593],[1437.5,2794,2752,2709,2667,2624,2582],[1442.5,2787,2745,2702,2660,2617],
  [1447.5,2771,2729,2686,2644,2601],[1452.5,2779,2737,2694,2652,2609],[1457.5,2801,2759,2716,2674,2631,2589],
  [1462.5,2796,2754,2711,2669,2626],[1467.5,2813,2771,2728,2686,2643,2601],[1472.5,2822,2779,2737,2694,2652,2609],
  [1477.5,2789,2747,2704,2662,2619],[1482.5,2761,2719,2676,2634,2591],[1487.5,2766,2724,2681,2639,2596],
  [1492.5,2774,2732,2689,2647,2604],[1497.5,2792,2749,2707,2664,2622,2579],[1502.5,2808,2766,2723,2681,2638,2596],
  [1507.5,2797,2754,2712,2669,2627,2584],[1512.5,2803,2761,2718,2676,2633],[1517.5,2781,2739,2696,2654,2611],
  [1522.5,2768,2726,2683,2641,2598],[1527.5,2757,2714,2672,2629,2587],[1532.5,2762,2719,2677,2634,2592],
  [1537.5,2781,2738,2696,2653,2611],[1542.5,2797,2754,2712,2669,2627,2584],[1547.5,2773,2731,2688,2646,2603],
  [1552.5,2784,2742,2699,2657,2614],[1557.5,2809,2767,2724,2682,2639,2597],[1562.5,2817,2774,2732,2689,2647,2604],
  [1567.5,2826,2784,2741,2699,2656,2614],[1572.5,2822,2779,2737,2694,2652,2609],[1577.5,2814,2772,2729,2687,2644,2602],
  [1582.5,2827,2784,2742,2699,2657,2614],[1587.5,2836,2793,2751,2708,2666,2623],[1592.5,2843,2801,2758,2716,2673,2631],
  [1597.5,2851,2808,2766,2723,2681,2638],[1602.5,2847,2804,2762,2719,2677,2634]
];

// ER-5-4 density samples: [depth, density, density, ...]
var er54Rows = [
  [35,1980,1900,1820,1700,1580,1450,1320,1200,1080,1010],
  [40,2010,1940,1870,1790,1700,1610,1510,1420,1330,1240,1150,1060],
  [45,3290,3170,3050,2930,2850,2720,2640,2560,2480,2400,2320,2240,2160,2090,1990,1920,1860,1780,1680,1590,1480,1390,1270,1150],
  [50,3280,3200,3110,3000,2920,2800,2700,2600,2520,2440,2350,2270,2200,2120,1960,1900,1840,1750,1640,1530,1430,1320,1230],
  [55,1990,1950,1910,1870,1810,1740,1660,1550,1450,1340,1260,1180,1100,1040],
  [60,2010,1960,1920,1880,1830,1760,1690,1600,1520,1430,1350,1270],
  [65,1980,1940,1900,1860,1800,1730,1650,1560,1470,1380],
  [70,2000,1960,1920,1880,1820,1760,1690,1610,1520,1420,1300,1220],
  [75,2020,1970,1930,1890,1840,1780,1710,1630,1540],
  [80,1990,1950,1910,1870,1810,1750,1680,1590,1500],
  [85,2010,1960,1920,1880,1830,1770,1700,1620,1480,1360],
  [90,2000,1950,1910,1870,1820,1760,1690,1610,1530],
  [95,2020,1980,1940,1900,1840,1780,1710,1630],
  [100,2030,1980,1940,1900,1850,1790,1720,1640,1560],
  [105,2000,1960,1920,1880,1820,1760,1690],
  [110,2020,1970,1930,1890,1840,1780,1700,1620],
  [115,2010,1960,1920,1880,1830,1770,1700],
  [120,2030,1990,1950,1910,1850,1790,1720,1650],
  [125,1990,1950,1910,1870,1810,1750,1680,1600,1520,1440],
  [130,2040,1990,1950,1910,1860,1800,1730,1650,1560,1470,1380,1290,1200,1110,1030],
  [135,2010,1970,1930,1890,1830,1770,1700,1610,1520,1430,1340,1250,1160,1080],
  [140,2020,1980,1940,1900,1840,1780,1710,1630],
  [145,2000,1960,1920,1880,1820,1760,1690],
  [150,2030,1990,1950,1910,1850,1790,1720,1650,1570],
  [155,2010,1970,1930,1890,1830,1770,1700],
  [160,2020,1980,1940,1900,1840,1780,1710,1640],
  [165,2040,2000,1960,1920,1860,1800,1730],
  [170,2030,1990,1950,1910,1850,1790,1720,1650],
  [175,2050,2010,1970,1930,1870,1810,1740],
  [180,2040,2000,1960,1920,1860,1800,1730,1660],
  [185,2060,2020,1980,1940,1880,1820,1750,1680],
  [190,2070,2030,1990,1950,1890,1830,1760,1690,1610,1530],
  [195,2080,2040,2000,1960,1900,1840,1770,1700,1630,1560,1490],
  [200,2090,2050,2010,1970,1910,1850,1780,1710,1640,1580],
  [205,2100,2060,2020,1980,1920,1860,1790,1720,1650,1590],
  [210,2110,2070,2030,1990,1930,1870,1800,1730,1660],
  [215,2130,2090,2050,2010,1950,1890,1820,1750],
  [220,2150,2110,2070,2030,1970,1910,1840,1770],
  [225,2160,2100,2040,1980,1920,1850,1780,1700,1620,1540,1460,1380,1300,1220,1140,1060],
  [230,2140,2080,2020,1960,1900,1830,1760,1690,1610,1530,1450,1370,1290,1210,1130,1050],
  [235,2120,2060,2000,1940,1880,1810,1740,1660,1580,1500,1420,1340,1260,1180,1100,1030],
  [240,2100,2040,1980,1920,1860,1790,1720,1640,1560,1480,1400,1320,1240,1160,1080],
  [245,2080,2020,1960,1900,1840,1770,1700,1620,1540,1460,1380,1300,1220],
  [250,2060,2020,1980,1940,1880,1820,1750],
  [255,2100,2060,2020,1980,1920,1860],
  [260,2110,2070,2030,1990,1930,1870],
  [265,2120,2080,2040,2000,1940,1880],
  [270,2100,2060,2020,1980,1920,1860,1800],
  [275,2110,2050,1990,1930,1870,1790,1710,1630,1550,1470,1390,1310,1230,1150],
  [280,2120,2060,2000,1940,1880,1800,1720,1640,1560,1480,1400,1320,1240,1160],
  [285,2100,2040,1980,1920,1860,1780,1700,1620,1540,1460,1380,1300,1220],
  [290,2090,2050,2010,1970,1910,1850],
  [295,2100,2060,2020,1980,1920,1860],
  [300,2110,2070,2030,1990,1930,1870,1100,1070,1050,1030,1010],
  [305,2090,2050,2010,1970,1910,1850,1400,1300,1200,1090,1060,1040,1020,1000],
  [310,2100,2060,2020,1980,1920,1860,1080,1050,1030,1010],
  [315,2120,2080,2040,2000,1940],
  [320,2130,2090,2050,2010,1950],
  [325,2140,2100,2060,2020,1960,1900],
  [330,2160,2120,2080,2040,1980,1920],
  [335,2180,2140,2100,2060,2000,1940],
  [340,2170,2130,2090,2050,1990],
  [345,2190,2150,2110,2070,2010],
  [350,2200,2160,2120,2080,2020],
  [355,2220,2180,2140,2100,2040],
  [360,2240,2200,2160,2120,2060,2000],
  [365,2260,2220,2180,2140,2080,2020],
  [370,2270,2230,2190,2150,2090,2030],
  [375,2290,2250,2210,2170,2110,2050],
  [380,2280,2240,2200,2160,2100,2040],
  [385,2300,2260,2220,2180,2120,2060],
  [390,2290,2250,2210,2170,2110,2050],
  [395,2310,2270,2230,2190,2130,2070],
  [400,2300,2260,2220,2180,2120,2060],
  [405,2280,2240,2200,2160,2100,2040],
  [410,2290,2250,2210,2170,2110,2050],
  [415,2310,2270,2230,2190,2130,2070],
  [420,2300,2260,2220,2180,2120,2060],
  [425,2320,2280,2240,2200,2140,2080],
  [430,2290,2250,2210,2170,2110,2050],
  [435,2300,2260,2220,2180,2120,2060],
  [440,2280,2240,2200,2160,2100,2040],
  [445,2310,2270,2230,2190,2130,2070],
  [450,2300,2260,2220,2180,2120,2060],
  [455,2290,2250,2210,2170,2110,2050],
  [460,2320,2280,2240,2200,2140,2080],
  [465,2300,2260,2220,2180,2120,2060],
  [470,2310,2270,2230,2190,2130,2070],
  [475,2330,2290,2250,2210,2150,2090],
  [480,2310,2270,2230,2190,2130,2070],
  [485,2300,2260,2220,2180,2120,2060],
  [490,2290,2250,2210,2170,2110,2050],
  [495,2280,2240,2200,2160,2100,2040,1980,1900],
  [500,2260,2220,2180,2140,2080,2020,1950,1870,1790],
  [505,3230,3110,3000,2890,2850,2750,2480,2240,2180,2120,2060,2000,1930,1860,1780,1700,1620,1540,1460],
  [510,2200,2140,2080,2020,1960,1890,1820,1740,1660,1580,1500,1420,1340,1260,1180,1100,1030],
  [515,2160,2100,2040,1980,1910,1840,1760,1680,1600,1520,1440,1360,1280,1200,1120,1050,1010],
  [520,2120,2060,2000,1940,1870,1800,1720,1640,1560,1480,1400,1320,1240,1160,1080,1020],
  [525,2100,2040,1980,1920,1850,1780,1700,1620,1540,1460,1380,1300,1220,1140,1070,1010],
  [530,2090,2030,1970,1910,1840,1770,1690,1610,1530,1450,1370,1290,1210,1130,1060],
  [535,2080,2020,1960,1900,1830,1760,1680,1600,1520,1440,1360,1280,1200,1120,1040],
  [540,2070,2010,1950,1890,1820,1750,1670,1590,1510,1430,1350,1270,1190,1110,1030],
  [545,2090,2030,1970,1910,1840,1770,1690,1610,1530,1450,1370,1290,1210,1130],
  [550,2110,2050,1990,1930,1860,1790,1710,1630,1550,1470,1390,1310,1230],
  [555,2130,2070,2010,1950,1880,1810,1730,1650,1570,1490,1410],
  [560,2140,2080,2020,1960,1890,1820,1740,1660],
  [565,2150,2090,2030,1970,1900,1830,1750,1670],
  [570,2160,2100,2040,1980,1910,1840,1760,1680,1600,1520,1440,1360,1280],
  [575,2170,2110,2050,1990,1920,1850,1770,1690,1610,1530,1450,1370],
  [580,2180,2120,2060,2000,1930,1860,1780,1700,1620,1540,1460],
  [585,2160,2120,2080,2040,1980,1910,1840],
  [590,2150,2110,2070,2030,1970,1900,1830],
  [595,2140,2100,2060,2020,1960,1890],
  [600,2170,2130,2090,2050,1990,1920,1850],
  [605,2190,2150,2110,2070,2010,1940,1870],
  [610,2180,2140,2100,2060,2000,1930],
  [615,2200,2160,2120,2080,2020,1950,1740,1650,1560,1470,1380,1290],
  [620,2210,2170,2130,2090,2030,1960,1720,1630,1540,1450,1360,1260],
  [625,2190,2150,2110,2070,2010,1940],
  [630,2200,2160,2120,2080,2020,1950],
  [635,2210,2150,2090,2030,1960,1900,1820,1740,1660,1580,1500],
  [640,2190,2130,2070,2010,1940,1880,1800,1720,1640,1560,1480],
  [645,2180,2120,2060,2000,1930,1860,1780,1700,1620,1540],
  [650,2200,2140,2080,2020,1950,1890,1810,1730,1650,1570,1490],
  [655,2210,2150,2090,2030,1960,1900,1820,1740,1660],
  [660,2220,2160,2100,2040,1970,1910,1830,1750,1670,1590,1510,1460],
  [665,2200,2160,2120,2080,2020,1950,1880],
  [670,2230,2190,2150,2110,2050,1980,1910],
  [675,2250,2210,2170,2130,2070,2000,1930],
  [680,2270,2230,2190,2150,2090,2020,1950],
  [685,2290,2250,2210,2170,2110,2040,1970],
  [690,2300,2260,2220,2180,2120,2050,1980,1910,1850],
  [695,2290,2250,2210,2170,2110,2040,1970,1900,1830],
  [700,2280,2240,2200,2160,2100,2030,1960,1890,1820],
  [705,2300,2260,2220,2180,2120,2050,1980,1910],
  [710,2310,2270,2230,2190,2130,2060,1990,1920,1850],
  [715,2290,2250,2210,2170,2110,2040,1970,1900],
  [720,2280,2240,2200,2160,2100,2030,1960,1890,1830],
  [725,2300,2260,2220,2180,2120,2050,1980,1910],
  [730,2310,2270,2230,2190,2130,2060,1990,1920,1860],
  [735,2290,2250,2210,2170,2110,2040,1970,1900],
  [740,2270,2230,2190,2150,2090,2020,1950,1880,1810,1740,1680],
  [745,2250,2210,2170,2130,2070,2000,1930,1860,1790,1720],
  [750,2280,2240,2200,2160,2100,2030,1960,1890],
  [755,2300,2260,2220,2180,2120,2050,1980,1910],
  [760,2290,2250,2210,2170,2110,2040,1970,1900,1840],
  [765,2280,2240,2200,2160,2100,2030,1960,1890],
  [770,2260,2220,2180,2140,2080,2010,1940,1870],
  [775,2270,2230,2190,2150,2090,2020,1950,1880],
  [780,2250,2210,2170,2130,2070,2000,1930],
  [785,2240,2200,2160,2120,2060,1990,1920,1860],
  [790,2260,2220,2180,2140,2080,2010,1940],
  [795,2250,2210,2170,2130,2070,2000,1930,1860],
  [800,2240,2200,2160,2120,2060,1990,1920],
  [805,2230,2190,2150,2110,2050,1980,1910,1850],
  [810,2250,2210,2170,2130,2070,2000,1930],
  [815,2260,2220,2180,2140,2080,2010,1940,1870],
  [820,2240,2200,2160,2120,2060,1990,1920,1860,1810,1760],
  [825,2230,2190,2150,2110,2050,1980,1910,1850,1790],
  [830,2250,2210,2170,2130,2070,2000,1930],
  [835,2270,2230,2190,2150,2090,2020,1950],
  [840,2280,2240,2200,2160,2100,2030,1960,1890],
  [845,2260,2220,2180,2140,2080,2010,1940],
  [850,2250,2210,2170,2130,2070,2000,1930,1870],
  [855,2240,2200,2160,2120,2060,1990,1920],
  [860,2230,2190,2150,2110,2050,1980,1910,1850],
  [865,2220,2180,2140,2100,2040,1970,1900],
  [870,2240,2200,2160,2120,2060,1990,1920,1860],
  [875,2230,2190,2150,2110,2050,1980,1910],
  [880,2210,2170,2130,2090,2030,1960,1890,1830],
  [885,2200,2160,2120,2080,2020,1950,1880],
  [890,2220,2180,2140,2100,2040,1970,1900,1840],
  [895,2210,2170,2130,2090,2030,1960,1890],
  [900,2200,2160,2120,2080,2020,1950,1880,1820],
  [905,2190,2150,2110,2070,2010,1940,1870,1810,1760],
  [910,2210,2170,2130,2090,2030,1960,1890,1830,1770,1750],
  [915,2220,2180,2140,2100,2040,1970,1900],
  [920,2240,2200,2160,2120,2060,1990,1920,1860],
  [925,2230,2190,2150,2110,2050,1980,1910],
  [930,2220,2180,2140,2100,2040,1970,1900,1840],
  [935,2210,2170,2130,2090,2030,1960,1890],
  [940,2230,2190,2150,2110,2050,1980,1910,1850],
  [945,2250,2210,2170,2130,2070,2000,1930],
  [950,2260,2220,2180,2140,2080,2010,1940,1880],
  [955,2240,2200,2160,2120,2060,1990,1920],
  [960,2230,2190,2150,2110,2050,1980,1910,1850],
  [965,2250,2210,2170,2130,2070,2000,1930],
  [970,2270,2230,2190,2150,2090,2020,1950,1890],
  [975,2260,2220,2180,2140,2080,2010,1940],
  [980,2240,2200,2160,2120,2060,1990,1920,1860],
  [985,2220,2180,2140,2100,2040,1970,1900],
  [990,2230,2190,2150,2110,2050,1980,1910,1850],
  [995,2210,2170,2130,2090,2030,1960,1890],
  [1000,2330,2290,2250,2210,2150,2090,2030,1970],
  [1005,2350,2310,2270,2230,2170,2110,2050],
  [1010,2340,2300,2260,2220,2160,2100,2040,1980],
  [1015,2360,2320,2280,2240,2180,2120,2060],
  [1020,2350,2310,2270,2230,2170,2110,2050],
  [1025,2330,2290,2250,2210,2150,2090,2030],
  [1030,2340,2300,2260,2220,2160,2100,2040],
  [1035,2320,2280,2240,2200,2140,2080,2020],
  [1040,2310,2270,2230,2190,2130,2070],
  [1045,2300,2260,2220,2180,2120,2060],
  [1050,2290,2250,2210,2170,2110,2050],
  [1055,2300,2260,2220,2180,2120,2060,2000],
  [1060,2320,2280,2240,2200,2140,2080,2020,1960],
  [1065,2340,2300,2260,2220,2160,2100,2040],
  [1070,2330,2290,2250,2210,2150,2090,2030],
  [1075,2310,2270,2230,2190,2130,2070,2010,1960],
  [1080,2290,2250,2210,2170,2110,2050,1990,1940],
  [1085,2280,2240,2200,2160,2100,2040,1980]
];

// ER-5-4 samples in between, where the log is densest
var er54BandRows = [
  [37.5,1962,1915,1873,1826,1781],[42.5,1997,1951,1904,1862,1818,1772],[47.5,1984,1938,1893,1847,1801,1756],
  [52.5,1991,1946,1899,1854,1808,1763],[57.5,2004,1968,1926,1889,1847,1803,1764],[62.5,1993,1956,1913,1874,1834,1792,1751],
  [67.5,2011,1972,1931,1893,1851,1812,1770],[72.5,1986,1947,1907,1866,1827,1786,1747],[77.5,2006,1967,1926,1887,1846,1806,1767],
  [82.5,1998,1958,1919,1879,1838,1799,1758],[87.5,2014,1975,1935,1896,1856,1816,1777],[92.5,1989,1949,1910,1871,1831,1792,1751],
  [97.5,2009,1969,1929,1890,1851,1811,1772],[102.5,2017,1978,1938,1899,1859,1820,1781],[107.5,1995,1956,1916,1877,1838,1798,1759],
  [112.5,2012,1972,1933,1894,1854,1815,1776],[117.5,2002,1963,1923,1884,1845,1805,1766],[122.5,2019,1979,1940,1901,1861,1822,1783],
  [127.5,2007,1968,1928,1889,1850,1810,1771],[132.5,2021,1982,1942,1903,1864,1824,1785],[137.5,1999,1960,1921,1881,1842,1803,1763],
  [142.5,2013,1974,1934,1895,1856,1816,1777],[147.5,2003,1964,1924,1885,1846,1806,1767],[152.5,2018,1979,1939,1900,1861,1821,1782],
  [157.5,2008,1969,1929,1890,1851,1811,1772],[162.5,2022,1983,1943,1904,1865,1825,1786],[167.5,2026,1987,1947,1908,1869,1829,1790],
  [172.5,2033,1994,1954,1915,1876,1836,1797],[177.5,2038,1999,1959,1920,1881,1841,1802],[182.5,2047,2008,1968,1929,1890,1850,1811],
  [187.5,2058,2019,1979,1940,1901,1861,1822],[192.5,2069,2030,1990,1951,1912,1872,1833],[197.5,2078,2039,1999,1960,1921,1881,1842],
  [202.5,2087,2048,2008,1969,1930,1890,1851],[207.5,2098,2059,2019,1980,1941,1901,1862],[212.5,2114,2075,2035,1996,1957,1917,1878],
  [217.5,2131,2092,2052,2013,1974,1934,1895],[222.5,2143,2104,2064,2025,1986,1946,1907],[227.5,2139,2100,2060,2021,1982,1942,1903],
  [232.5,2127,2088,2048,2009,1970,1930,1891],[237.5,2111,2072,2032,1993,1954,1914,1875],[242.5,2093,2054,2014,1975,1936,1896,1857],
  [247.5,2074,2035,1995,1956,1917,1877,1838],[252.5,2083,2044,2004,1965,1926,1886],[257.5,2101,2062,2022,1983,1944,1904],
  [262.5,2114,2075,2035,1996,1957,1917],[267.5,2109,2070,2030,1991,1952,1912],[272.5,2103,2064,2024,1985,1946,1906],
  [277.5,2116,2077,2037,1998,1959,1919],[282.5,2108,2069,2029,1990,1951,1911],[287.5,2094,2055,2015,1976,1937,1897],
  [292.5,2097,2058,2018,1979,1940,1900],[297.5,2106,2067,2027,1988,1949,1909],[302.5,2099,2060,2020,1981,1942,1902],
  [307.5,2104,2065,2025,1986,1947,1907],[312.5,2117,2078,2038,1999,1960,1920],[317.5,2126,2087,2047,2008,1969,1929],
  [322.5,2134,2095,2055,2016,1977,1937],[327.5,2152,2113,2073,2034,1995,1955],[332.5,2171,2132,2092,2053,2014,1974],
  [337.5,2176,2137,2097,2058,2019,1979],[342.5,2183,2144,2104,2065,2026,1986],[347.5,2196,2157,2117,2078,2039,1999],
  [352.5,2212,2173,2133,2094,2055,2015],[357.5,2232,2193,2153,2114,2075,2035],[362.5,2252,2213,2173,2134,2095,2055,2021],
  [367.5,2267,2228,2188,2149,2110,2070,2036],[372.5,2281,2242,2202,2163,2124,2084,2047],[377.5,2286,2247,2207,2168,2129,2089,2052],
  [382.5,2292,2253,2213,2174,2135,2095,2058],[387.5,2297,2258,2218,2179,2140,2100,2063],[392.5,2303,2264,2224,2185,2146,2106,2069],
  [397.5,2306,2267,2227,2188,2149,2109,2072],[402.5,2294,2255,2215,2176,2137,2097,2061],[407.5,2287,2248,2208,2169,2130,2090,2053],
  [412.5,2302,2263,2223,2184,2145,2105,2068],[417.5,2308,2269,2229,2190,2151,2111,2074],[422.5,2313,2274,2234,2195,2156,2116,2079],
  [427.5,2304,2265,2225,2186,2147,2107,2071],[432.5,2296,2257,2217,2178,2139,2099,2063],[437.5,2291,2252,2212,2173,2134,2094,2058],
  [442.5,2299,2260,2220,2181,2142,2102,2066],[447.5,2307,2268,2228,2189,2150,2110,2073],[452.5,2297,2258,2218,2179,2140,2100,2064],
  [457.5,2309,2270,2230,2191,2152,2112,2076],[462.5,2314,2275,2235,2196,2157,2117,2081],[467.5,2306,2267,2227,2188,2149,2109,2072],
  [472.5,2321,2282,2242,2203,2164,2124,2087],[477.5,2319,2280,2240,2201,2162,2122,2085],[482.5,2307,2268,2228,2189,2150,2110,2074],
  [487.5,2296,2257,2217,2178,2139,2099,2063],[492.5,2286,2247,2207,2168,2129,2089,2052],
  [497.5,2272,2231,2189,2147,2105,2063,2021,1956],[502.5,2241,2196,2151,2106,2061,2016,1962,1893,1824],
  [507.5,2181,2127,2073,2019,1956,1891,1826,1761,1696,1631,1566,1501],
  [512.5,2142,2088,2034,1980,1917,1852,1787,1722,1657,1592,1527,1462,1397,1332,1267,1202,1137,1072],
  [517.5,2109,2055,2001,1947,1884,1819,1754,1689,1624,1559,1494,1429,1364,1299,1234,1169,1104,1039],
  [522.5,2087,2033,1979,1925,1862,1797,1732,1667,1602,1537,1472,1407,1342,1277,1212,1147,1082,1017],
  [527.5,2076,2022,1968,1914,1851,1786,1721,1656,1591,1526,1461,1396,1331,1266,1201,1136,1071,1024],
  [532.5,2068,2014,1960,1906,1843,1778,1713,1648,1583,1518,1453,1388,1323,1258,1193,1128,1063],
  [537.5,2061,2007,1953,1899,1836,1771,1706,1641,1576,1511,1446,1381,1316,1251,1186,1121,1056],
  [542.5,2079,2025,1971,1917,1854,1789,1724,1659,1594,1529,1464,1399,1334,1269,1204,1139],
  [547.5,2098,2044,1990,1936,1873,1808,1743,1678,1613,1548,1483,1418,1353,1288,1223],
  [552.5,2119,2065,2011,1957,1894,1829,1764,1699,1634,1569,1504,1439,1374],
  [557.5,2133,2079,2025,1971,1908,1843,1778,1713,1648,1583],[562.5,2144,2090,2036,1982,1919,1854,1789,1724],
  [567.5,2153,2099,2045,1991,1928,1863,1798,1733,1668],[572.5,2164,2110,2056,2002,1939,1874,1809,1744,1679,1614,1549],
  [577.5,2172,2118,2064,2010,1947,1882,1817,1752,1687,1622],[582.5,2169,2115,2061,2007,1944,1879,1814,1749],
  [587.5,2156,2112,2068,2024,1971,1917,1863],[592.5,2147,2103,2059,2015,1962,1908,1854],[597.5,2153,2109,2065,2021,1968,1914,1860],
  [602.5,2178,2134,2090,2046,1993,1939,1885],[607.5,2186,2142,2098,2054,2001,1947,1893],[612.5,2193,2149,2105,2061,2008,1954,1900],
  [617.5,2204,2160,2116,2072,2019,1965,1911],[622.5,2199,2155,2111,2067,2014,1960,1906],[627.5,2196,2152,2108,2064,2011,1957,1903],
  [632.5,2207,2163,2119,2075,2022,1968,1914],[637.5,2201,2157,2113,2069,2016,1962,1908],[642.5,2186,2142,2098,2054,2001,1947,1893],
  [647.5,2192,2148,2104,2060,2007,1953,1899],[652.5,2206,2162,2118,2074,2021,1967,1913],[657.5,2216,2172,2128,2084,2031,1977,1923],
  [662.5,2212,2168,2124,2080,2027,1973,1919],[667.5,2218,2174,2130,2086,2033,1979,1925],[672.5,2241,2197,2153,2109,2056,2002,1948],
  [677.5,2262,2218,2174,2130,2077,2023,1969],[682.5,2279,2235,2191,2147,2094,2040,1986],[687.5,2294,2250,2206,2162,2109,2055,2001,1947],
  [692.5,2297,2253,2209,2165,2112,2058,2004,1950,1881],[697.5,2284,2240,2196,2152,2099,2045,1991,1937,1868],
  [702.5,2293,2249,2205,2161,2108,2054,2000,1946],[707.5,2306,2262,2218,2174,2121,2067,2013,1959,1890],
  [712.5,2298,2254,2210,2166,2113,2059,2005,1951],[717.5,2287,2243,2199,2155,2102,2048,1994,1940,1871],
  [722.5,2292,2248,2204,2160,2107,2053,1999,1945],[727.5,2305,2261,2217,2173,2120,2066,2012,1958,1889],
  [732.5,2301,2257,2213,2169,2116,2062,2008,1954],[737.5,2281,2237,2193,2149,2096,2042,1988,1934,1865],
  [742.5,2262,2218,2174,2130,2077,2023,1969,1915,1846,1773,1712],[747.5,2268,2224,2180,2136,2083,2029,1975,1921,1852],
  [752.5,2289,2245,2201,2157,2104,2050,1996,1942],[757.5,2296,2252,2208,2164,2111,2057,2003,1949,1880],
  [762.5,2286,2242,2198,2154,2101,2047,1993,1939],[767.5,2273,2229,2185,2141,2088,2034,1980,1926,1857],
  [772.5,2264,2220,2176,2132,2079,2025,1971,1917],[777.5,2258,2214,2170,2126,2073,2019,1965,1911],
  [782.5,2246,2202,2158,2114,2061,2007,1953,1899],[787.5,2251,2207,2163,2119,2066,2012,1958,1904],
  [792.5,2256,2212,2168,2124,2071,2017,1963,1909],[797.5,2244,2200,2156,2112,2059,2005,1951,1897],
  [802.5,2236,2192,2148,2104,2051,1997,1943,1889],[807.5,2243,2199,2155,2111,2058,2004,1950,1896],
  [812.5,2257,2213,2169,2125,2072,2018,1964,1910],[817.5,2253,2209,2165,2121,2068,2014,1960,1906],
  [822.5,2237,2193,2149,2105,2052,1998,1944,1890,1826,1781],[827.5,2241,2197,2153,2109,2056,2002,1948,1894],
  [832.5,2261,2217,2173,2129,2076,2022,1968,1914],[837.5,2276,2232,2188,2144,2091,2037,1983,1929],
  [842.5,2271,2227,2183,2139,2086,2032,1978,1924],[847.5,2254,2210,2166,2122,2069,2015,1961,1907],
  [852.5,2245,2201,2157,2113,2060,2006,1952,1898],[857.5,2236,2192,2148,2104,2051,1997,1943,1889],
  [862.5,2226,2182,2138,2094,2041,1987,1933,1879],[867.5,2232,2188,2144,2100,2047,1993,1939,1885],
  [872.5,2236,2192,2148,2104,2051,1997,1943,1889],[877.5,2219,2175,2131,2087,2034,1980,1926,1872],
  [882.5,2204,2160,2116,2072,2019,1965,1911,1857],[887.5,2213,2169,2125,2081,2028,1974,1920,1866],
  [892.5,2216,2172,2128,2084,2031,1977,1923,1869],[897.5,2204,2160,2116,2072,2019,1965,1911,1857],
  [902.5,2194,2150,2106,2062,2009,1955,1901,1847],[907.5,2201,2157,2113,2069,2016,1962,1908,1854,1787],
  [912.5,2216,2172,2128,2084,2031,1977,1923,1869],[917.5,2231,2187,2143,2099,2046,1992,1938,1884],
  [922.5,2236,2192,2148,2104,2051,1997,1943,1889],[927.5,2226,2182,2138,2094,2041,1987,1933,1879],
  [932.5,2215,2171,2127,2083,2030,1976,1922,1868],[937.5,2221,2177,2133,2089,2036,1982,1928,1874],
  [942.5,2241,2197,2153,2109,2056,2002,1948,1894],[947.5,2256,2212,2168,2124,2071,2017,1963,1909],
  [952.5,2251,2207,2163,2119,2066,2012,1958,1904],[957.5,2236,2192,2148,2104,2051,1997,1943,1889],
  [962.5,2241,2197,2153,2109,2056,2002,1948,1894],[967.5,2261,2217,2173,2129,2076,2022,1968,1914],
  [972.5,2266,2222,2178,2134,2081,2027,1973,1919],[977.5,2251,2207,2163,2119,2066,2012,1958,1904],
  [982.5,2231,2187,2143,2099,2046,1992,1938,1884],[987.5,2226,2182,2138,2094,2041,1987,1933,1879],
  [992.5,2221,2177,2133,2089,2036,1982,1928,1874],[997.5,2281,2237,2193,2149,2096,2042,1988,1934],
  [1002.5,2341,2297,2253,2209,2156,2102,2048,1994],[1007.5,2346,2302,2258,2214,2161,2107,2053,1999],
  [1012.5,2351,2307,2263,2219,2166,2112,2058,2004],[1017.5,2356,2312,2268,2224,2171,2117,2063],
  [1022.5,2341,2297,2253,2209,2156,2102,2048,1994],[1027.5,2336,2292,2248,2204,2151,2097,2043],
  [1032.5,2331,2287,2243,2199,2146,2092,2038],[1037.5,2316,2272,2228,2184,2131,2077,2023],
  [1042.5,2306,2262,2218,2174,2121,2067,2013],[1047.5,2296,2252,2208,2164,2111,2057,2003],
  [1052.5,2294,2250,2206,2162,2109,2055,2001],[1057.5,2311,2267,2223,2179,2126,2072,2018,1964],
  [1062.5,2331,2287,2243,2199,2146,2092,2038,1984],[1067.5,2336,2292,2248,2204,2151,2097,2043,1989],
  [1072.5,2321,2277,2233,2189,2136,2082,2028,1974],[1077.5,2301,2257,2213,2169,2116,2062,2008,1954],
  [1082.5,2286,2242,2198,2154,2101,2047,1993,1939]
];

// step models
var firstModelDepth = [0, 259, 601, 1202, 1426];
var firstModelDensity = [1940, 2120, 2053, 2150, 2150];
var finalModelDepth = [0, 322, 1000, 1220, 1502];
var finalModelDensity = [1900, 2090, 2187, 2248, 2248];

var yTickValues = [1000, 2000, 3000];
var xTickValues = [0, 500, 1000, 1500];
var legendLabels = ['density data ER-5-3no.2', 'first density model', 'density data for ER-5-4', 'final density model'];

var colors = { er53: '#004586', first: '#0a84ff', er54: '#ff9191', final: '#c00000' };

var width = 1148, height = 856, fontSize = 26;
var plot = { left: 133, top: 7.5, right: 1148, bottom: 749 };

var x = d3.scaleLinear().domain([-176, 1755]).range([plot.left, plot.right]);
var y = d3.scaleLinear().domain([1000, 3300]).range([plot.bottom, plot.top]);

var svg = d3.select('#chart').append('svg')
  .attr('width', width).attr('height', height)
  .style('display', 'block');

//Gridlines
var gridVals = d3.range(1100, 3301, 100);
svg.append('g').selectAll('line').data(gridVals).enter().append('line')
  .attr('x1', plot.left).attr('x2', plot.right)
  .attr('y1', function(d){ return Math.round(y(d)) + 0.5; })
  .attr('y2', function(d){ return Math.round(y(d)) + 0.5; })
  .attr('stroke', function(d){ return d % 1000 === 0 ? '#a0a0a0' : '#cfcfcf'; })
  .attr('stroke-width', 1);

//Flatten rows into points
function toPoints(rows){
  var pts = [];
  rows.forEach(function(r){
    r.slice(1).forEach(function(v){ pts.push({ depth: r[0], density: v }); });
  });
  return pts;
}

svg.append('clipPath').attr('id', 'plotclip').append('rect')
  .attr('x', plot.left).attr('y', plot.top)
  .attr('width', plot.right - plot.left).attr('height', plot.bottom - plot.top + 2);

var gData = svg.append('g').attr('clip-path', 'url(#plotclip)');

function drawDots(rows, color){
  gData.append('g').selectAll('circle').data(toPoints(rows)).enter().append('circle')
    .attr('cx', function(d){ return x(d.depth); })
    .attr('cy', function(d){ return y(d.density); })
    .attr('r', 1.5)
    .attr('fill', color);
}
drawDots(er53Rows.concat(er53BandRows), colors.er53);
drawDots(er54Rows.concat(er54BandRows), colors.er54);

//Model lines
var stepLine = d3.line()
  .x(function(d){ return x(d[0]); })
  .y(function(d){ return y(d[1]); })
  .curve(d3.curveStepAfter);

gData.append('path')
  .attr('d', stepLine(d3.zip(firstModelDepth, firstModelDensity)))
  .attr('fill', 'none').attr('stroke', colors.first)
  .attr('stroke-width', 6).attr('stroke-linecap', 'round');

gData.append('path')
  .attr('d', stepLine(d3.zip(finalModelDepth, finalModelDensity)))
  .attr('fill', 'none').attr('stroke', colors.final)
  .attr('stroke-width', 6).attr('stroke-linecap', 'round');

//Top border
svg.append('line').attr('x1', plot.left).attr('x2', plot.right)
  .attr('y1', plot.top).attr('y2', plot.top)
  .attr('stroke', '#000').attr('stroke-width', 1.5);

//X axis
var xAxis = d3.axisBottom(x).tickValues(xTickValues).tickSize(13).tickFormat(d3.format('d'));
var gx = svg.append('g').attr('transform', 'translate(0,' + plot.bottom + ')').call(xAxis);
gx.select('.domain').remove();
gx.selectAll('.tick line').attr('stroke', '#333');
gx.selectAll('.tick text').attr('font-size', fontSize).attr('dy', '1.38em')
  .style('font-family', '"Liberation Sans", Arial, sans-serif');
svg.append('g').attr('transform', 'translate(0,' + plot.bottom + ')')
  .call(d3.axisBottom(x).tickValues(d3.range(-100, 1701, 100)).tickSize(6).tickFormat(''))
  .call(function(g){ g.select('.domain').remove(); g.selectAll('line').attr('stroke', '#333'); });
svg.append('line').attr('x1', plot.left).attr('x2', plot.right)
  .attr('y1', plot.bottom).attr('y2', plot.bottom)
  .attr('stroke', '#6e6e6e').attr('stroke-width', 2.5);

//Y axis
var gyMinor = svg.append('g').attr('transform', 'translate(' + plot.left + ',0)')
  .call(d3.axisLeft(y).tickValues(d3.range(1100, 3301, 100)).tickSize(7).tickFormat(''));
gyMinor.select('.domain').remove();
var gy = svg.append('g').attr('transform', 'translate(' + plot.left + ',0)')
  .call(d3.axisLeft(y).tickValues(yTickValues).tickSize(13).tickFormat(d3.format(',')));
gy.select('.domain').remove();
gy.selectAll('.tick text').attr('font-size', fontSize).attr('x', -13)
  .style('font-family', '"Liberation Sans", Arial, sans-serif');
svg.append('line').attr('x1', plot.left).attr('x2', plot.left)
  .attr('y1', plot.top).attr('y2', plot.bottom)
  .attr('stroke', '#000').attr('stroke-width', 1.5);

//Axis titles
svg.append('text').attr('x', 601).attr('y', 851)
  .attr('text-anchor', 'middle').attr('font-size', fontSize).text('depth, meters');
svg.append('text').attr('transform', 'translate(33,418) rotate(-90)')
  .attr('text-anchor', 'middle').attr('font-size', fontSize).text('density, kg/m');

//Legend
var legend = svg.append('g');
legend.append('rect').attr('x', 666).attr('y', 23).attr('width', 439).attr('height', 141)
  .attr('fill', '#fff').attr('stroke', '#000').attr('stroke-width', 1.5);
var rowY = [44, 76, 109, 142];
var legendKinds = ['dot', 'line', 'dot', 'line'];
var legendColors = [colors.er53, colors.first, colors.er54, colors.final];
legendLabels.forEach(function(lbl, i){
  if(legendKinds[i] === 'dot'){
    legend.append('circle').attr('cx', 733).attr('cy', rowY[i]).attr('r', 7).attr('fill', legendColors[i]);
  } else {
    legend.append('line').attr('x1', 700).attr('x2', 766).attr('y1', rowY[i]).attr('y2', rowY[i])
      .attr('stroke', legendColors[i]).attr('stroke-width', 9).attr('stroke-linecap', 'round');
  }
  legend.append('text').attr('x', 793).attr('y', rowY[i]).attr('dy', '0.36em')
    .attr('font-size', fontSize).text(lbl);
});
</script>
</body>
</html>
